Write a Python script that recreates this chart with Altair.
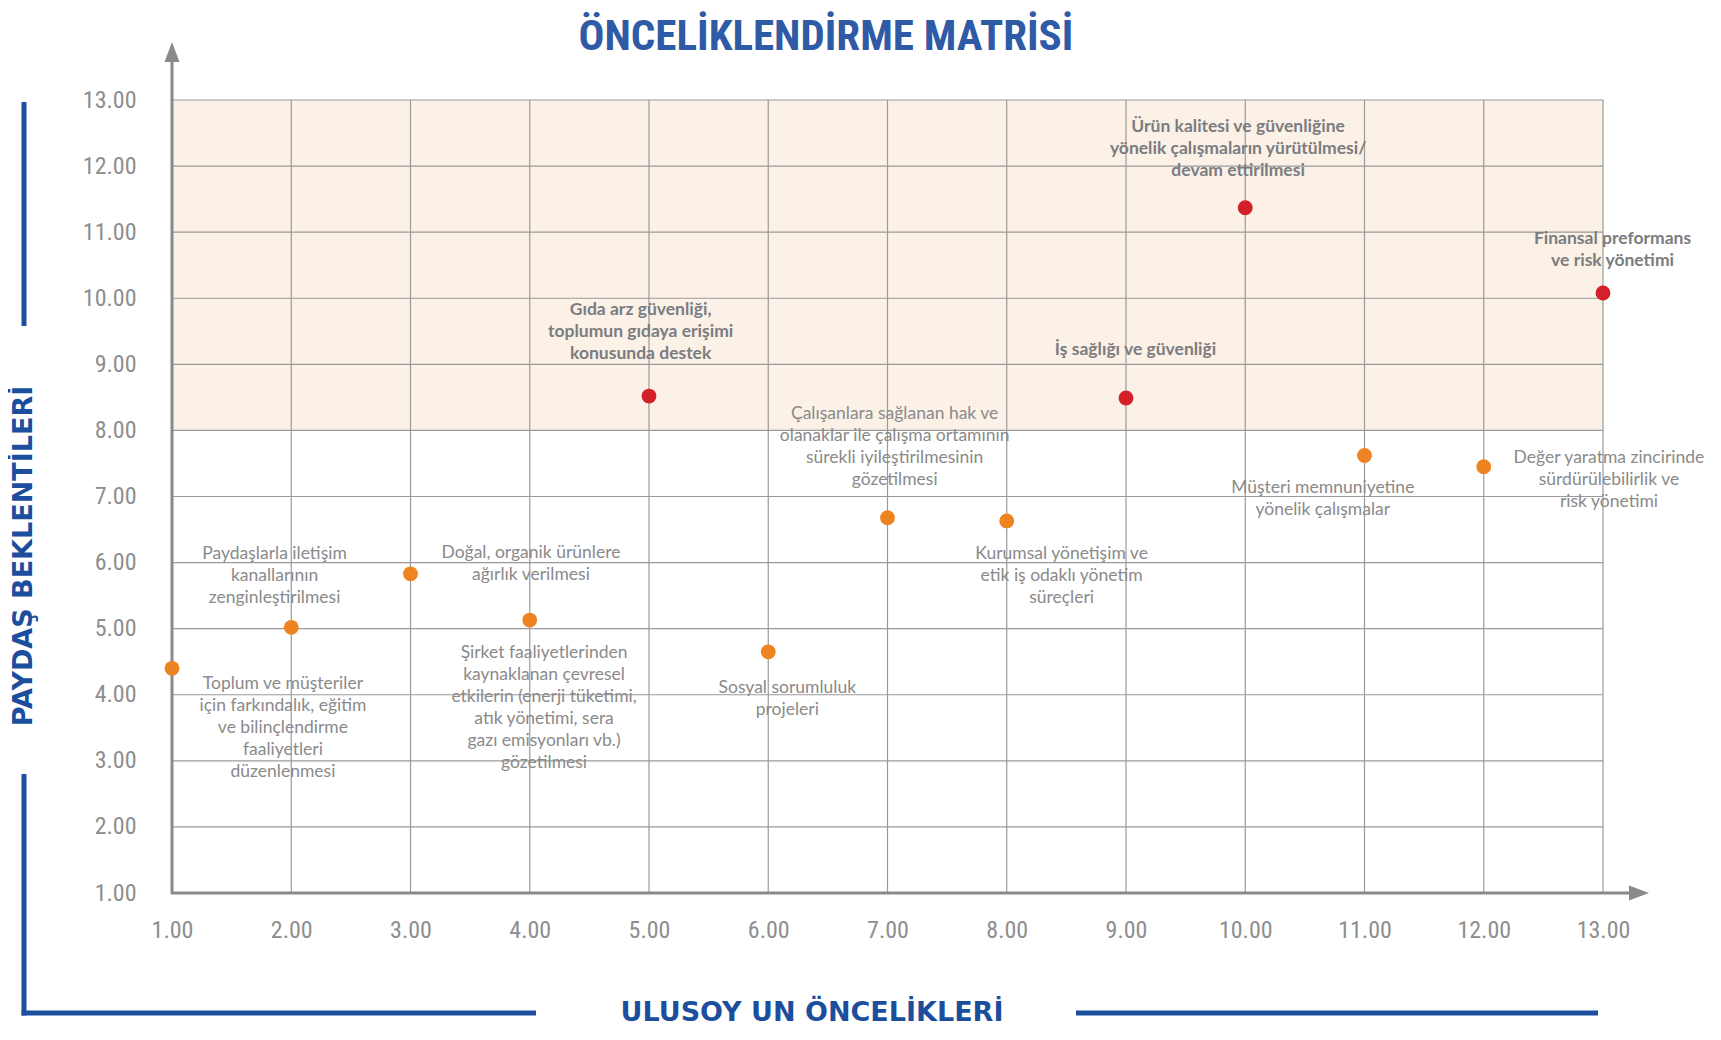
import altair as alt
import pandas as pd

# ---- data ----
x_vals = [1, 2, 3, 4, 5, 6, 7, 8, 9, 10, 11, 12, 13]
y_vals = [4.40, 5.02, 5.83, 5.13, 8.52, 4.65, 6.68, 6.63, 8.49, 11.37, 7.62, 7.45, 10.08]
priority = ["orta", "orta", "orta", "orta", "yüksek", "orta", "orta", "orta",
            "yüksek", "yüksek", "orta", "orta", "yüksek"]
labels = [
    "Toplum ve müşteriler\niçin farkındalık, eğitim\nve bilinçlendirme\nfaaliyetleri\ndüzenlenmesi",
    "Paydaşlarla iletişim\nkanallarının\nzenginleştirilmesi",
    "Doğal, organik ürünlere\nağırlık verilmesi",
    "Şirket faaliyetlerinden\nkaynaklanan çevresel\netkilerin (enerji tüketimi,\natık yönetimi, sera\ngazı emisyonları vb.)\ngözetilmesi",
    "Gıda arz güvenliği,\ntoplumun gıdaya erişimi\nkonusunda destek",
    "Sosyal sorumluluk\nprojeleri",
    "Çalışanlara sağlanan hak ve\nolanaklar ile çalışma ortamının\nsürekli iyileştirilmesinin\ngözetilmesi",
    "Kurumsal yönetişim ve\netik iş odaklı yönetim\nsüreçleri",
    "İş sağlığı ve güvenliği",
    "Ürün kalitesi ve güvenliğine\nyönelik çalışmaların yürütülmesi/\ndevam ettirilmesi",
    "Müşteri memnuniyetine\nyönelik çalışmalar",
    "Değer yaratma zincirinde\nsürdürülebilirlik ve\nrisk yönetimi",
    "Finansal preformans\nve risk yönetimi",
]
# annotation anchor (data units, centre of first text line)
label_x = [1.93, 1.86, 4.01, 4.12, 4.93, 6.16, 7.06, 8.46, 9.08, 9.94, 10.65, 13.05, 13.08]
label_y = [4.14, 6.11, 6.13, 4.62, 9.80, 4.09, 8.24, 6.11, 9.20, 12.58, 7.12, 7.57, 10.88]

x_ticks = [1, 2, 3, 4, 5, 6, 7, 8, 9, 10, 11, 12, 13]
y_ticks = [1, 2, 3, 4, 5, 6, 7, 8, 9, 10, 11, 12, 13]
zone_low, zone_high = 8, 13

title_text = "ÖNCELİKLENDİRME MATRİSİ"
x_title = "ULUSOY UN ÖNCELİKLERİ"
y_title = "PAYDAŞ BEKLENTİLERİ"

# ---- tables ----
pts = pd.DataFrame({"x": x_vals, "y": y_vals, "p": priority})
lab_n = pd.DataFrame({"lx": label_x, "ly": label_y, "t": labels, "p": priority})
lab_b = lab_n[lab_n["p"] == "yüksek"]
lab_n = lab_n[lab_n["p"] == "orta"]
vgrid = pd.DataFrame({"g": x_ticks[1:], "a": y_ticks[0], "b": y_ticks[-1]})
hgrid = pd.DataFrame({"g": y_ticks[1:], "a": x_ticks[0], "b": x_ticks[-1]})
zone = pd.DataFrame({"x1": [x_ticks[0]], "x2": [x_ticks[-1]], "y1": [zone_low], "y2": [zone_high]})
one = pd.DataFrame({"k": [0]})
titles = pd.DataFrame({"t": [title_text], "xt": [x_title], "yt": [y_title]})

XS = alt.Scale(domain=[1, 13], nice=False, zero=False)
YS = alt.Scale(domain=[1, 13], nice=False, zero=False)

TICK_FONT = "Liberation Sans Narrow, Roboto Condensed, Roboto, sans-serif"
TXT_FONT = "Lato, Noto Sans, sans-serif"
BLUE = "#1b4f9e"
GREY_AX = "#8a8a8a"

AX = alt.Axis(values=x_ticks, format=".2f", grid=False, domain=False, ticks=False, title=None,
              labelFont=TICK_FONT, labelFontSize=24, labelColor="#8e8e8e", labelPadding=25,
              labelFlush=False)
AY = alt.Axis(values=y_ticks, format=".2f", grid=False, domain=False, ticks=False, title=None,
              labelFont=TICK_FONT, labelFontSize=24, labelColor="#8e8e8e", labelPadding=36,
              labelFlush=False)

shade = alt.Chart(zone).mark_rect(color="#fbf1e7").encode(
    x=alt.X("x1:Q", scale=XS, axis=AX), x2="x2:Q",
    y=alt.Y("y1:Q", scale=YS, axis=AY), y2="y2:Q")

vlines = alt.Chart(vgrid).mark_rule(color="#9a9a9a", strokeWidth=1.2).encode(
    x=alt.X("g:Q", scale=XS, axis=AX), y=alt.Y("a:Q", scale=YS, axis=AY), y2="b:Q")
hlines = alt.Chart(hgrid).mark_rule(color="#9a9a9a", strokeWidth=1.2).encode(
    y=alt.Y("g:Q", scale=YS, axis=AY), x=alt.X("a:Q", scale=XS, axis=AX), x2="b:Q")

# axis lines with arrows (decoration)
y_axis_line = alt.Chart(one).mark_rule(color=GREY_AX, strokeWidth=3).encode(
    x=alt.value(0), y=alt.value(794), y2=alt.value(-40))
x_axis_line = alt.Chart(one).mark_rule(color=GREY_AX, strokeWidth=3).encode(
    x=alt.value(-1), x2=alt.value(1460), y=alt.value(793))
y_arrow = alt.Chart(one).mark_point(shape="M-0.75,1L0,-1L0.75,1Z", filled=True, color=GREY_AX,
                                   size=400, opacity=1).encode(x=alt.value(0), y=alt.value(-48))
x_arrow = alt.Chart(one).mark_point(shape="M-1,-0.75L1,0L-1,0.75Z", filled=True, color=GREY_AX,
                                   size=400, opacity=1).encode(x=alt.value(1467), y=alt.value(793))

points = alt.Chart(pts).mark_circle(size=220, opacity=1).encode(
    x=alt.X("x:Q", scale=XS, axis=AX),
    y=alt.Y("y:Q", scale=YS, axis=AY),
    color=alt.Color("p:N", scale=alt.Scale(domain=["orta", "yüksek"], range=["#ee8322", "#d42029"]),
                    legend=None))

text_normal = alt.Chart(lab_n).mark_text(
    font=TXT_FONT, fontSize=17.5, lineHeight=22, lineBreak="\n", color="#8a8a8a", align="center",
    baseline="top", dy=-10).encode(
    x=alt.X("lx:Q", scale=XS, axis=AX), y=alt.Y("ly:Q", scale=YS, axis=AY), text="t:N")
text_bold = alt.Chart(lab_b).mark_text(
    font=TXT_FONT, fontSize=17.5, lineHeight=22, lineBreak="\n", color="#7a7c80", fontWeight="bold",
    align="center", baseline="top", dy=-10).encode(
    x=alt.X("lx:Q", scale=XS, axis=AX), y=alt.Y("ly:Q", scale=YS, axis=AY), text="t:N")

# titles and blue frame lines (decoration)
main_title = alt.Chart(titles).mark_text(font="Liberation Sans Narrow, Roboto Condensed, Roboto",
                                         fontSize=43, fontWeight="bold", color="#2e5aa6",
                                         align="center", baseline="middle").encode(
    x=alt.value(654), y=alt.value(-63), text="t:N")
xt = alt.Chart(titles).mark_text(font="DejaVu Sans", fontSize=27, fontWeight="bold", color=BLUE,
                                 align="center", baseline="middle").encode(
    x=alt.value(640), y=alt.value(913), text="xt:N")
yt = alt.Chart(titles).mark_text(font="DejaVu Sans", fontSize=27, fontWeight="bold", color=BLUE,
                                 align="center", baseline="middle", angle=270).encode(
    x=alt.value(-148), y=alt.value(456), text="yt:N")

frame_v1 = alt.Chart(one).mark_rule(color=BLUE, strokeWidth=5).encode(
    x=alt.value(-148), y=alt.value(2), y2=alt.value(226))
frame_v2 = alt.Chart(one).mark_rule(color=BLUE, strokeWidth=5).encode(
    x=alt.value(-148), y=alt.value(674), y2=alt.value(915.5))
frame_h1 = alt.Chart(one).mark_rule(color=BLUE, strokeWidth=5).encode(
    x=alt.value(-150.5), x2=alt.value(364), y=alt.value(913))
frame_h2 = alt.Chart(one).mark_rule(color=BLUE, strokeWidth=5).encode(
    x=alt.value(904), x2=alt.value(1426), y=alt.value(913))

chart = alt.layer(
    shade, vlines, hlines, y_axis_line, x_axis_line, y_arrow, x_arrow,
    text_normal, text_bold, points, main_title, xt, yt, frame_v1, frame_v2, frame_h1, frame_h2
).properties(
    width=1431, height=793,
    padding={"left": 164, "top": 92, "right": 110, "bottom": 135},
    autosize=alt.AutoSizeParams(type="none"),
).configure_view(stroke=None)

chart.save("out.html", embed_options={"renderer": "svg", "actions": False})
